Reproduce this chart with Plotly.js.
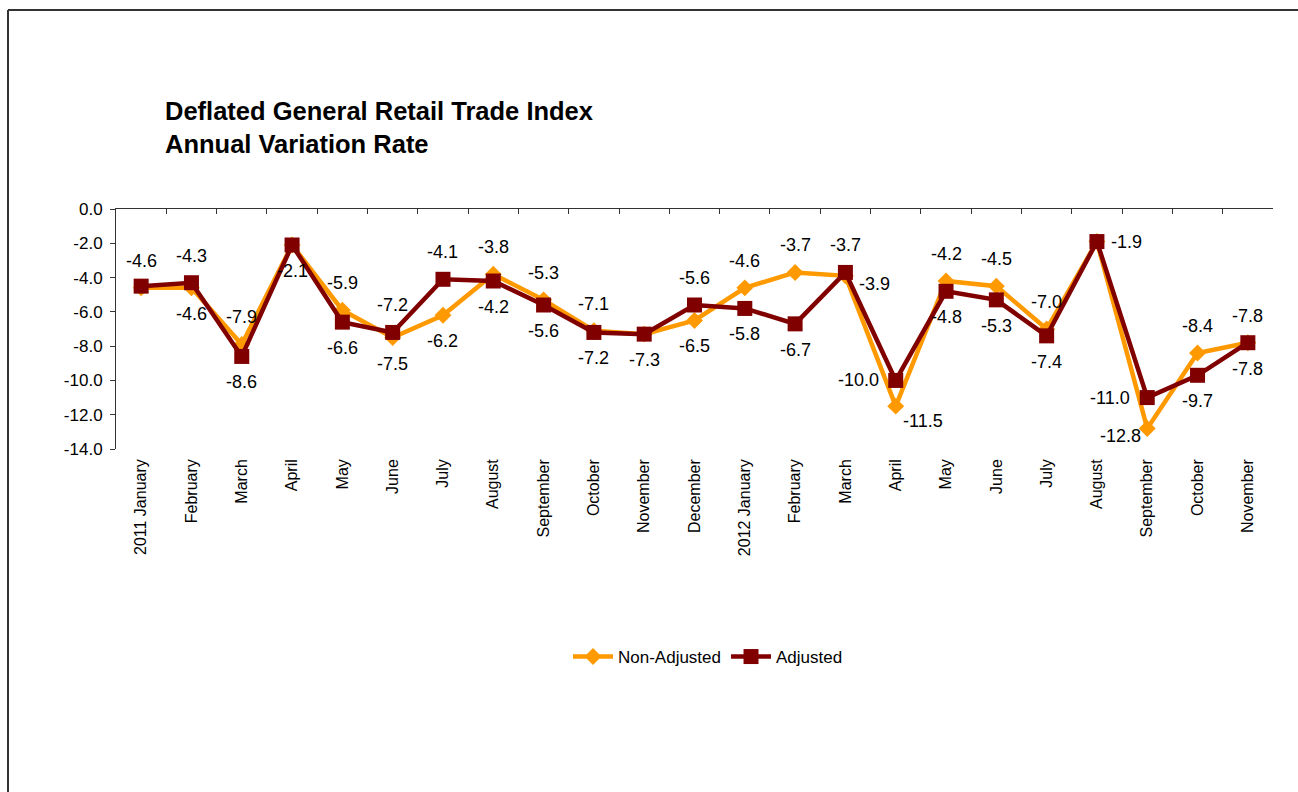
<!DOCTYPE html>
<html>
<head>
<meta charset="utf-8">
<script src="https://cdn.plot.ly/plotly-3.0.1.min.js"></script>
<style>
  body { margin: 0; background: #fff; }
  #chart { width: 1298px; height: 792px; }
</style>
</head>
<body>
<div id="chart"></div>
<script>
// months on the category axis
let months = ["2011 January", "February", "March", "April", "May", "June", "July",
  "August", "September", "October", "November", "December",
  "2012 January", "February", "March", "April", "May", "June", "July",
  "August", "September", "October", "November"];

// annual variation rate (%)
let nonAdjusted = [-4.6, -4.6, -7.9, -2.1, -5.9, -7.5, -6.2, -3.8, -5.3, -7.1, -7.3, -6.5,
  -4.6, -3.7, -3.9, -11.5, -4.2, -4.5, -7.0, -1.9, -12.8, -8.4, -7.8];
let adjusted = [-4.5, -4.3, -8.6, -2.1, -6.6, -7.2, -4.1, -4.2, -5.6, -7.2, -7.3, -5.6,
  -5.8, -6.7, -3.7, -10.0, -4.8, -5.3, -7.4, -1.9, -11.0, -9.7, -7.8];

// y axis ticks
let yTicks = [0, -2, -4, -6, -8, -10, -12, -14];

let idx = months.map((m, i) => i);
let font = "Liberation Sans, Arial, sans-serif";

// label placement: higher value above, lower below, with a few hand moves
let shift = {
  above: [0, 27], below: [0, -26], left: [-37, 0], right: [30, 0],
  rightlow: [29, -8], belowright: [27, -15], belowleft: [-27, -8]
};
let naPos = {0: "above", 14: "rightlow", 15: "belowright", 20: "belowleft", 22: "above"};
let adjPos = {14: "above", 15: "left", 19: "right", 20: "left", 22: "below"};
let naHidden = [3, 10, 19];
let adjHidden = [0];

let annotations = [];
idx.forEach(i => {
  let a = nonAdjusted[i], b = adjusted[i];
  if (naHidden.indexOf(i) < 0) {
    let p = naPos[i] || (a >= b ? "above" : "below");
    annotations.push({x: i, y: a, xref: "x", yref: "y", text: a.toFixed(1), showarrow: false,
      xshift: shift[p][0], yshift: shift[p][1], font: {family: font, size: 18, color: "#000"}});
  }
  if (adjHidden.indexOf(i) < 0) {
    let p = adjPos[i] || (b > a ? "above" : "below");
    annotations.push({x: i, y: b, xref: "x", yref: "y", text: b.toFixed(1), showarrow: false,
      xshift: shift[p][0], yshift: shift[p][1], font: {family: font, size: 18, color: "#000"}});
  }
});

let trace1 = {
  x: idx, y: nonAdjusted, name: "Non-Adjusted", type: "scatter", mode: "lines+markers",
  line: {color: "#FF9900", width: 4.5},
  marker: {symbol: "diamond", size: 13, color: "#FF9900"},
  hoverinfo: "y"
};
let trace2 = {
  x: idx, y: adjusted, name: "Adjusted", type: "scatter", mode: "lines+markers",
  line: {color: "#800000", width: 4.5},
  marker: {symbol: "square", size: 15, color: "#800000"},
  hoverinfo: "y"
};
// empty trace so the top axis line with its tick marks gets drawn
let topAxis = {x: [null], y: [null], xaxis: "x2", showlegend: false, hoverinfo: "skip"};

// outer frame of the chart, in paper units of the plot area
let L = 116, R = 25, T = 209, B = 343;
let pw = 1298 - L - R, ph = 792 - T - B;
let px = v => (v - L) / pw;
let py = v => (792 - B - v) / ph;

let layout = {
  width: 1298, height: 792,
  margin: {l: L, r: R, t: T, b: B},
  paper_bgcolor: "#fff", plot_bgcolor: "#fff",
  font: {family: font, color: "#000"},
  title: {
    text: "Deflated General Retail Trade Index<br>Annual Variation Rate",
    font: {family: font, size: 25.5, weight: "bold", color: "#000"},
    xref: "container", x: 165 / 1298, xanchor: "left",
    yref: "container", y: 1 - 120 / 792, yanchor: "top"
  },
  xaxis: {
    range: [-0.5, 22.5], tickvals: idx, ticktext: months, tickangle: -90,
    ticks: "", showline: false, showgrid: false, zeroline: false,
    tickfont: {family: font, size: 16}, ticklabelstandoff: 6
  },
  xaxis2: {
    overlaying: "x", side: "top", anchor: "y", range: [-0.5, 22.5],
    tickvals: idx.concat([23]).map(v => v - 0.5), showticklabels: false,
    ticks: "inside", ticklen: 5, tickcolor: "#333", showline: true, linecolor: "#333",
    linewidth: 1, showgrid: false, zeroline: false
  },
  yaxis: {
    range: [-14, 0], tickvals: yTicks, ticktext: yTicks.map(v => v.toFixed(1)),
    ticks: "outside", ticklen: 5,
    tickcolor: "#333", showline: true, linecolor: "#333", linewidth: 1,
    showgrid: false, zeroline: false, tickfont: {family: font, size: 17},
    ticklabelstandoff: 4
  },
  legend: {
    orientation: "h", x: px(708), xanchor: "center", y: py(657), yanchor: "middle",
    font: {family: font, size: 17}, itemwidth: 40
  },
  annotations: annotations,
  shapes: [
    {type: "line", xref: "paper", yref: "paper", x0: px(8), x1: px(8), y0: py(10), y1: py(800),
      line: {color: "#333", width: 2}},
    {type: "line", xref: "paper", yref: "paper", x0: px(8), x1: px(1300), y0: py(10), y1: py(10),
      line: {color: "#333", width: 2}}
  ],
  showlegend: true
};

Plotly.newPlot("chart", [trace1, trace2, topAxis], layout, {displayModeBar: false});
</script>
</body>
</html>
